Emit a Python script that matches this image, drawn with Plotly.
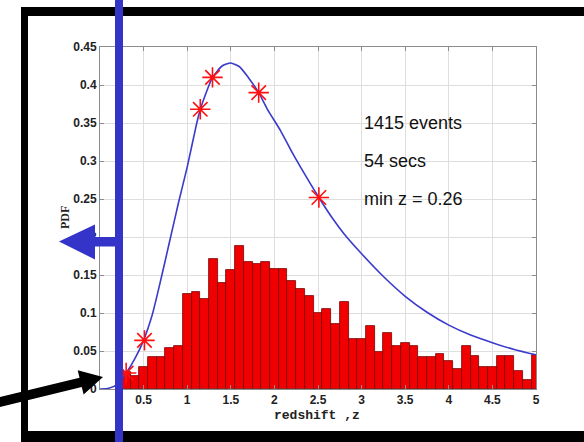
import plotly.graph_objects as go
import math

# ---------------- data ----------------
bin_centers = [0.3, 0.4, 0.5, 0.6, 0.7, 0.8, 0.9, 1.0, 1.1, 1.2, 1.3, 1.4, 1.5, 1.6,
               1.7, 1.8, 1.9, 2.0, 2.1, 2.2, 2.3, 2.4, 2.5, 2.6, 2.7, 2.8, 2.9, 3.0,
               3.1, 3.2, 3.3, 3.4, 3.5, 3.6, 3.7, 3.8, 3.9, 4.0, 4.1, 4.2, 4.3, 4.4,
               4.5, 4.6, 4.7, 4.8, 4.9, 5.0]
bin_heights = [0.022, 0.0175, 0.029, 0.0427, 0.0427, 0.0545, 0.0567, 0.1249, 0.128, 0.119,
               0.1706, 0.1394, 0.156, 0.1878, 0.167, 0.165, 0.1675, 0.1583, 0.1583, 0.1422,
               0.1312, 0.1225, 0.0996, 0.1048, 0.0853, 0.1139, 0.0658, 0.0658, 0.0831, 0.049,
               0.0743, 0.0567, 0.0603, 0.057, 0.0426, 0.0426, 0.0457, 0.0374, 0.0262, 0.0572,
               0.043, 0.029, 0.029, 0.043, 0.043, 0.0235, 0.0123, 0.0442]

curve_z = [0.0, 0.1, 0.2, 0.3, 0.4, 0.5, 0.6, 0.7, 0.8, 0.9, 1.0, 1.1, 1.15, 1.29, 1.4,
           1.5, 1.6, 1.7, 1.82, 1.92, 2.07, 2.2, 2.3, 2.51, 2.67, 2.8, 3.0, 3.25, 3.5,
           3.75, 4.0, 4.25, 4.5, 4.75, 5.0]
curve_pdf = [0.0, 0.001, 0.006, 0.021, 0.04, 0.064, 0.098, 0.145, 0.195, 0.245, 0.292,
             0.345, 0.368, 0.41, 0.425, 0.429, 0.424, 0.41, 0.39, 0.368, 0.34, 0.312, 0.292,
             0.252, 0.224, 0.204, 0.178, 0.148, 0.122, 0.101, 0.084, 0.071, 0.061, 0.052,
             0.045]

star_z = [0.30, 0.51, 1.15, 1.29, 1.82, 2.51]
star_pdf = [0.021, 0.064, 0.368, 0.410, 0.390, 0.252]

info_lines = ["1415 events", "54 secs", "min z = 0.26"]
info_y = [0.35, 0.30, 0.25]
info_x = 3.0

x_ticks = [0.5, 1, 1.5, 2, 2.5, 3, 3.5, 4, 4.5, 5]
x_ticktext = ["0.5", "1", "1.5", "2", "2.5", "3", "3.5", "4", "4.5", "5"]
y_ticks = [0, 0.05, 0.1, 0.15, 0.2, 0.25, 0.3, 0.35, 0.4, 0.45]
y_ticktext = ["0", "0.05", "0.1", "0.15", "0.2", "0.25", "0.3", "0.35", "0.4", "0.45"]

# ---------------- layout geometry ----------------
W, H = 584, 442
L, R, T, B = 100, 48, 47, 53
PW, PH = W - L - R, H - T - B


def px(xpix):
    return (xpix - L) / PW


def py(ypix):
    return (H - B - ypix) / PH


def path(points):
    return "M " + " L ".join(f"{px(a):.5f},{py(b):.5f}" for a, b in points) + " Z"


BLUE = "#3434c8"

fig = go.Figure()
fig.add_trace(go.Bar(
    x=bin_centers, y=bin_heights, width=0.1,
    marker=dict(color="#f00000", line=dict(color="#7a0000", width=0.8)),
    showlegend=False,
))
fig.add_trace(go.Scatter(
    x=curve_z, y=curve_pdf, mode="lines",
    line=dict(color="#3a3acc", width=1.6, shape="spline", smoothing=0.55),
    showlegend=False,
))
fig.add_trace(go.Scatter(
    x=star_z, y=star_pdf, mode="markers",
    marker=dict(symbol="asterisk-open", size=17, color="#ff1010",
                line=dict(color="#ff1010", width=1.6)),
    showlegend=False, cliponaxis=False,
))

# ---------------- decorations ----------------
shapes = []
for (x0, y0, x1, y1) in [(21, 7, 28, 442), (21, 7, 584, 16), (21, 431, 584, 442)]:
    shapes.append(dict(type="rect", xref="paper", yref="paper",
                       x0=px(x0), x1=px(x1), y0=py(y0), y1=py(y1),
                       fillcolor="black", line=dict(width=0), layer="above"))
tail = (-6.0, 403.5)
tip = (103.0, 377.0)
dx, dy = tip[0] - tail[0], tip[1] - tail[1]
ln = math.hypot(dx, dy)
ux, uy = dx / ln, dy / ln
nx, ny = -uy, ux
hw, hl, hh = 4.8, 23.0, 12.5
bx, by = tip[0] - hl * ux, tip[1] - hl * uy
arrow_pts = [
    (tail[0] + nx * hw, tail[1] + ny * hw),
    (bx + nx * hw, by + ny * hw),
    (bx + nx * hh, by + ny * hh),
    tip,
    (bx - nx * hh, by - ny * hh),
    (bx - nx * hw, by - ny * hw),
    (tail[0] - nx * hw, tail[1] - ny * hw),
]
shapes.append(dict(type="path", xref="paper", yref="paper", path=path(arrow_pts),
                   fillcolor="black", line=dict(width=0), layer="above"))
shapes.append(dict(type="rect", xref="paper", yref="paper",
                   x0=px(115), x1=px(123), y0=py(0), y1=py(442),
                   fillcolor=BLUE, line=dict(width=0), layer="above"))
blue_pts = [(59, 241.5), (95, 224.5), (95, 237), (119, 237), (119, 246.5),
            (95, 246.5), (95, 259.5)]
shapes.append(dict(type="path", xref="paper", yref="paper", path=path(blue_pts),
                   fillcolor=BLUE, line=dict(width=0), layer="above"))

annotations = []
for txt, yy in zip(info_lines, info_y):
    annotations.append(dict(x=info_x, y=yy, xref="x", yref="y", text=txt,
                            showarrow=False, xanchor="left", yanchor="middle",
                            font=dict(family="Liberation Sans, Arial", size=18,
                                      color="#111")))
annotations.append(dict(x=px(317), y=py(415), xref="paper", yref="paper",
                        text="redshift ,z", showarrow=False,
                        xanchor="center", yanchor="middle",
                        font=dict(family="Liberation Mono, Courier New", size=13,
                                  color="#222", weight="bold")))
annotations.append(dict(x=px(65), y=py(218), xref="paper", yref="paper",
                        text="PDF", showarrow=False, textangle=-90,
                        xanchor="center", yanchor="middle",
                        font=dict(family="Liberation Serif, Times New Roman", size=12,
                                  color="#222", weight="bold")))

axis_common = dict(showgrid=True, gridcolor="#dedede", gridwidth=1,
                   showline=True, linecolor="#8c8c8c", linewidth=1, mirror="ticks",
                   ticks="inside", ticklen=4, tickcolor="#8c8c8c", zeroline=False,
                   tickfont=dict(family="Liberation Sans, Arial", size=12,
                                 color="#222", weight="bold"))

fig.update_layout(
    width=W, height=H,
    margin=dict(l=L, r=R, t=T, b=B, pad=0),
    paper_bgcolor="white", plot_bgcolor="white",
    bargap=0, showlegend=False,
    xaxis=dict(range=[0, 5], tickvals=x_ticks, ticktext=x_ticktext, **axis_common),
    yaxis=dict(range=[0, 0.45], tickvals=y_ticks, ticktext=y_ticktext, **axis_common),
    shapes=shapes, annotations=annotations,
)

fig.write_html("out.html")
